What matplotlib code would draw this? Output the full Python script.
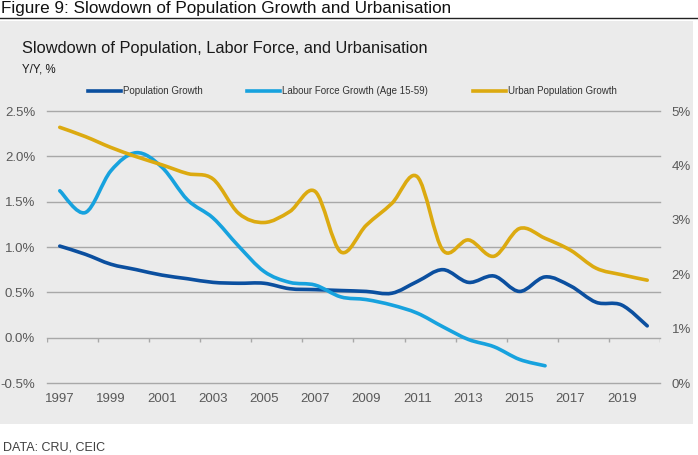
import numpy as np
import matplotlib
matplotlib.use("Agg")
import matplotlib.pyplot as plt
from matplotlib.path import Path
from matplotlib.patches import PathPatch, Rectangle
from matplotlib.lines import Line2D

plt.rcParams['font.family'] = ['Liberation Sans', 'DejaVu Sans']

# data (yearly, % y/y)
years = list(range(1997, 2021))
population = [1.01, 0.92, 0.81, 0.75, 0.69, 0.65, 0.61, 0.60, 0.60, 0.54, 0.53, 0.52,
              0.51, 0.49, 0.62, 0.75, 0.61, 0.68, 0.51, 0.67, 0.57, 0.39, 0.36, 0.13]
labour_years = list(range(1997, 2017))
labour = [1.62, 1.38, 1.84, 2.04, 1.88, 1.52, 1.32, 1.01, 0.73, 0.61, 0.58, 0.45,
          0.42, 0.36, 0.27, 0.12, -0.02, -0.10, -0.24, -0.31]
urban = [4.70, 4.53, 4.33, 4.16, 4.01, 3.85, 3.75, 3.12, 2.95, 3.15, 3.52, 2.41,
         2.90, 3.30, 3.79, 2.44, 2.63, 2.33, 2.84, 2.66, 2.44, 2.11, 1.99, 1.89]

left_ticks = [-0.5, 0.0, 0.5, 1.0, 1.5, 2.0, 2.5]
right_ticks = [0, 1, 2, 3, 4, 5]

c_pop = '#0b4f9f'
c_lab = '#17a2de'
c_urb = '#dcaa10'
grid_c = '#a8a8a8'
tick_c = '#595959'


def smooth_path(xs, ys):
    # excel-style smoothed line: cubic bezier through the points
    pts = np.column_stack([xs, ys]).astype(float)
    n = len(pts)
    verts = [pts[0]]
    codes = [Path.MOVETO]
    for i in range(n - 1):
        p0 = pts[max(i - 1, 0)]
        p1 = pts[i]
        p2 = pts[i + 1]
        p3 = pts[min(i + 2, n - 1)]
        verts += [p1 + (p2 - p0) / 6, p2 - (p3 - p1) / 6, p2]
        codes += [Path.CURVE4] * 3
    return Path(verts, codes)


fig = plt.figure(figsize=(6.98, 4.55), dpi=100)
W, H = 698, 455

# grey panel + header rule
fig.patches.append(Rectangle((0, 1 - 424 / H), 693 / W, 403 / H, transform=fig.transFigure,
                             facecolor='#ebebeb', edgecolor='none', zorder=-10))
fig.add_artist(Line2D([0, 1], [1 - 17.5 / H] * 2, color='#222222', lw=1.0))

fig.text(1 / W, 1 - 8 / H, 'Figure 9: Slowdown of Population Growth and Urbanisation',
         fontsize=12.3, va='center', ha='left', color='#111111')
fig.text(22 / W, 1 - 53 / H, 'Slowdown of Population, Labor Force, and Urbanisation',
         fontsize=11.8, va='baseline', ha='left', color='#1a1a1a')
fig.text(22 / W, 1 - 69 / H, 'Y/Y, %', fontsize=8.3, va='center', ha='left', color='#1a1a1a')
fig.text(3 / W, 1 - 448 / H, 'DATA: CRU, CEIC', fontsize=9, va='center', ha='left',
         color='#404040')

ax = fig.add_axes([47 / W, 1 - 383 / H, 613 / W, 272 / H])
ax.set_facecolor('none')
xmin, xmax = years[0] - 0.5, years[-1] + 0.5
ax.set_xlim(xmin, xmax)
ax.set_ylim(-0.5, 2.5)
ax.set_yticks(left_ticks)
ax.set_yticklabels(['{:.1f}%'.format(t) for t in left_ticks])
ax.set_xticks(years[::2])
ax.set_xticklabels([str(y) for y in years[::2]])
for s in ax.spines.values():
    s.set_visible(False)
ax.tick_params(axis='both', length=0, labelsize=9.5, colors=tick_c)
ax.tick_params(axis='y', pad=8.5)
ax.tick_params(axis='x', pad=7)
for t in left_ticks:
    ax.plot([xmin, xmax], [t, t], color=grid_c, lw=1.0, zorder=1, clip_on=False)
# category tick marks hanging off the zero line
bounds = np.arange(xmin, xmax + 0.5, 2)
ax.vlines(bounds, -0.045, 0, color=grid_c, lw=1.0, zorder=1)

ax.add_patch(PathPatch(smooth_path(years, population), fill=False, edgecolor=c_pop,
                       lw=2.6, capstyle='round', zorder=3))
ax.add_patch(PathPatch(smooth_path(labour_years, labour), fill=False, edgecolor=c_lab,
                       lw=2.6, capstyle='round', zorder=3))

ax2 = ax.twinx()
ax2.set_ylim(0, 5)
ax2.set_yticks(right_ticks)
ax2.set_yticklabels(['{}%'.format(t) for t in right_ticks])
for s in ax2.spines.values():
    s.set_visible(False)
ax2.tick_params(axis='y', length=0, labelsize=9.5, colors=tick_c, pad=8.5)
ax2.add_patch(PathPatch(smooth_path(years, urban), fill=False, edgecolor=c_urb,
                        lw=2.6, capstyle='round', zorder=3))

handles = [Line2D([], [], color=c_pop, lw=2.6),
           Line2D([], [], color=c_lab, lw=2.6),
           Line2D([], [], color=c_urb, lw=2.6)]
labels = ['Population Growth', 'Labour Force Growth (Age 15-59)', 'Urban Population Growth']
fig.legend(handles, labels, loc='center', bbox_to_anchor=(352 / W, 1 - 91 / H), ncol=3,
           frameon=False, fontsize=7, handlelength=3.4, handletextpad=0.2,
           columnspacing=4.6, labelcolor='#333333')

fig.savefig('out.png', dpi=100)
